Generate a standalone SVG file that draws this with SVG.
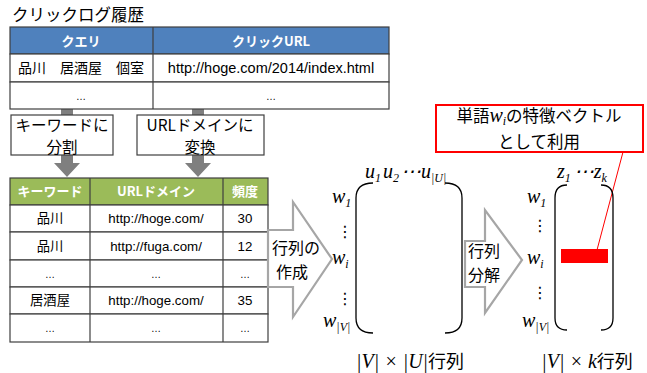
<svg xmlns="http://www.w3.org/2000/svg" width="647" height="373" viewBox="0 0 647 373">
<style>
.jp{font-family:"Noto Sans CJK JP","Noto Sans",sans-serif;fill:#000}
.lat{font-family:"Liberation Sans","Noto Sans CJK JP",sans-serif;fill:#000}
.hd{font-family:"Noto Sans CJK JP",sans-serif;fill:#fff;font-weight:bold;font-size:13px}
.cell{fill:#fff;stroke:#3f3f3f;stroke-width:1.2}
.m{font-family:"Liberation Serif","DejaVu Serif",serif;font-style:italic;font-size:20px;fill:#000}
.dots{font-family:"DejaVu Sans",sans-serif;font-size:16px;fill:#000}
.sub{font-size:12px}
.br{fill:none;stroke:#000;stroke-width:1.3}
.big{fill:#fff;stroke:#a6a6a6;stroke-width:2.2}
.gray{fill:#7f7f7f}
.box{fill:#fff;stroke:#3f3f3f;stroke-width:1.2}
</style>
<rect width="647" height="373" fill="#fff"/>
<text class="jp" x="12" y="21" font-size="16.5">クリックログ履歴</text>

<g id="connectors">
  <path class="gray" d="M61,109 H73 V163 H80 L67,177 L54,163 H61 Z"/>
  <path class="gray" d="M192,109 H204 V163 H211 L198,177 L185,163 H192 Z"/>
  <line x1="623" y1="152" x2="597" y2="250" stroke="#ff0000" stroke-width="1"/>
</g>

<g id="click-log-table">
  <rect x="10" y="27" width="379" height="27" fill="#4f81bd" stroke="#3f3f3f" stroke-width="1.2"/>
  <rect class="cell" x="10" y="54" width="379" height="28"/>
  <rect class="cell" x="10" y="82" width="379" height="27"/>
  <line x1="153" y1="27" x2="153" y2="109" stroke="#3f3f3f" stroke-width="1.2"/>
  <text class="hd" x="81" y="45.5" text-anchor="middle">クエリ</text>
  <text class="hd" x="271" y="45.5" text-anchor="middle">クリックURL</text>
  <text class="jp" x="81" y="73" font-size="14" text-anchor="middle" xml:space="preserve">品川　居酒屋　個室</text>
  <text class="lat" x="271" y="73" font-size="14.5" text-anchor="middle">http://hoge.com/2014/index.html</text>
  <text class="lat" x="81" y="100" font-size="10" text-anchor="middle">…</text>
  <text class="lat" x="271" y="100" font-size="10" text-anchor="middle">…</text>
</g>

<g id="split-box">
  <rect class="box" x="11" y="115" width="102" height="40"/>
  <text class="jp" x="62" y="131" font-size="15.5" text-anchor="middle">キーワードに</text>
  <text class="jp" x="62" y="153" font-size="15.5" text-anchor="middle">分割</text>
</g>
<g id="domain-box">
  <rect class="box" x="137" y="115" width="127" height="40"/>
  <text class="jp" x="200" y="131" font-size="15.5" text-anchor="middle">URLドメインに</text>
  <text class="jp" x="200" y="153" font-size="15.5" text-anchor="middle">変換</text>
</g>

<g id="domain-table">
  <rect x="10" y="178" width="258" height="27" fill="#9bbb59" stroke="#3f3f3f" stroke-width="1.2"/>
  <rect class="cell" x="10" y="205" width="258" height="27"/>
  <rect class="cell" x="10" y="232" width="258" height="28"/>
  <rect class="cell" x="10" y="260" width="258" height="27"/>
  <rect class="cell" x="10" y="287" width="258" height="27"/>
  <rect class="cell" x="10" y="314" width="258" height="28"/>
  <line x1="90" y1="178" x2="90" y2="342" stroke="#3f3f3f" stroke-width="1.2"/>
  <line x1="223" y1="178" x2="223" y2="342" stroke="#3f3f3f" stroke-width="1.2"/>
  <text class="hd" x="50" y="196" text-anchor="middle">キーワード</text>
  <text class="hd" x="156" y="196" text-anchor="middle">URLドメイン</text>
  <text class="hd" x="245" y="196" text-anchor="middle">頻度</text>
  <g font-size="13.3">
  <text class="jp" x="50" y="223" text-anchor="middle">品川</text>
  <text class="lat" x="156" y="223" text-anchor="middle">http://hoge.com/</text>
  <text class="lat" x="245" y="223" text-anchor="middle">30</text>
  <text class="jp" x="50" y="251" text-anchor="middle">品川</text>
  <text class="lat" x="156" y="251" text-anchor="middle">http://fuga.com/</text>
  <text class="lat" x="245" y="251" text-anchor="middle">12</text>
  <text class="jp" x="50" y="305" text-anchor="middle">居酒屋</text>
  <text class="lat" x="156" y="305" text-anchor="middle">http://hoge.com/</text>
  <text class="lat" x="245" y="305" text-anchor="middle">35</text>
  </g>
  <g font-size="10">
  <text class="lat" x="50" y="278" text-anchor="middle">…</text>
  <text class="lat" x="156" y="278" text-anchor="middle">…</text>
  <text class="lat" x="245" y="278" text-anchor="middle">…</text>
  <text class="lat" x="50" y="332" text-anchor="middle">…</text>
  <text class="lat" x="156" y="332" text-anchor="middle">…</text>
  <text class="lat" x="245" y="332" text-anchor="middle">…</text>
  </g>
</g>

<g id="arrow-create">
  <path class="big" d="M268,230 H293 V202 L332,259 L293,317 V287 H268 Z"/>
  <text class="jp" x="296" y="254" font-size="16" text-anchor="middle">行列の</text>
  <text class="jp" x="292" y="278" font-size="16" text-anchor="middle">作成</text>
</g>

<g id="matrix-vu">
  <path class="br" d="M373,183 C362,183 356,188 356,198 L356,318 C356,328 362,333 373,333"/>
  <path class="br" d="M445,183 C456,183 462,188 462,198 L462,318 C462,328 456,333 445,333"/>
  <text class="m" x="365" y="178">u<tspan class="sub" dy="4">1</tspan><tspan dy="-4" dx="2">u</tspan><tspan class="sub" dy="4">2</tspan><tspan dy="-4" dx="2">⋯u</tspan><tspan class="sub" dy="4">|U|</tspan></text>
  <text class="m" x="332" y="203">w<tspan class="sub" dy="4">1</tspan></text>
  <text class="dots" x="337" y="237">⋮</text>
  <text class="m" x="332" y="264">w<tspan class="sub" dy="4">i</tspan></text>
  <text class="dots" x="337" y="304">⋮</text>
  <text class="m" x="323" y="327">w<tspan class="sub" dy="4">|V|</tspan></text>
  <text x="410" y="368" font-size="18" text-anchor="middle"><tspan class="m" font-size="19">|V| × |U|</tspan><tspan class="jp">行列</tspan></text>
</g>

<g id="arrow-factorize">
  <path class="big" d="M465,241 H485 V210 L522,260 L485,313 V287 H465 Z"/>
  <text class="jp" x="484" y="257" font-size="16" text-anchor="middle">行列</text>
  <text class="jp" x="484" y="281" font-size="16" text-anchor="middle">分解</text>
</g>

<g id="matrix-vk">
  <path class="br" d="M567,185 C559,185 555,190 555,198 L555,318 C555,326 559,330 567,330"/>
  <path class="br" d="M601,185 C609,185 613,190 613,198 L613,318 C613,326 609,330 601,330"/>
  <rect x="561" y="249" width="47" height="14" fill="#ff0000"/>
  <text class="m" x="557" y="178">z<tspan class="sub" dy="4">1</tspan><tspan dy="-4" dx="3">⋯z</tspan><tspan class="sub" dy="4">k</tspan></text>
  <text class="m" x="527" y="203">w<tspan class="sub" dy="4">1</tspan></text>
  <text class="dots" x="532" y="231">⋮</text>
  <text class="m" x="527" y="264">w<tspan class="sub" dy="4">i</tspan></text>
  <text class="dots" x="532" y="298">⋮</text>
  <text class="m" x="522" y="327">w<tspan class="sub" dy="4">|V|</tspan></text>
  <text x="587" y="368" font-size="18" text-anchor="middle"><tspan class="m" font-size="19">|V| × k</tspan><tspan class="jp">行列</tspan></text>
</g>

<g id="callout">
  <rect x="436" y="105" width="207" height="47" fill="#fff" stroke="#ff0000" stroke-width="2"/>
  <text x="539" y="121.5" font-size="16.5" text-anchor="middle"><tspan class="jp">単語</tspan><tspan class="m" font-size="19">w</tspan><tspan class="m sub" dy="3">i</tspan><tspan class="jp" dy="-3">の特徴ベクトル</tspan></text>
  <text class="jp" x="539" y="148" font-size="16.5" text-anchor="middle">として利用</text>
</g>
</svg>
